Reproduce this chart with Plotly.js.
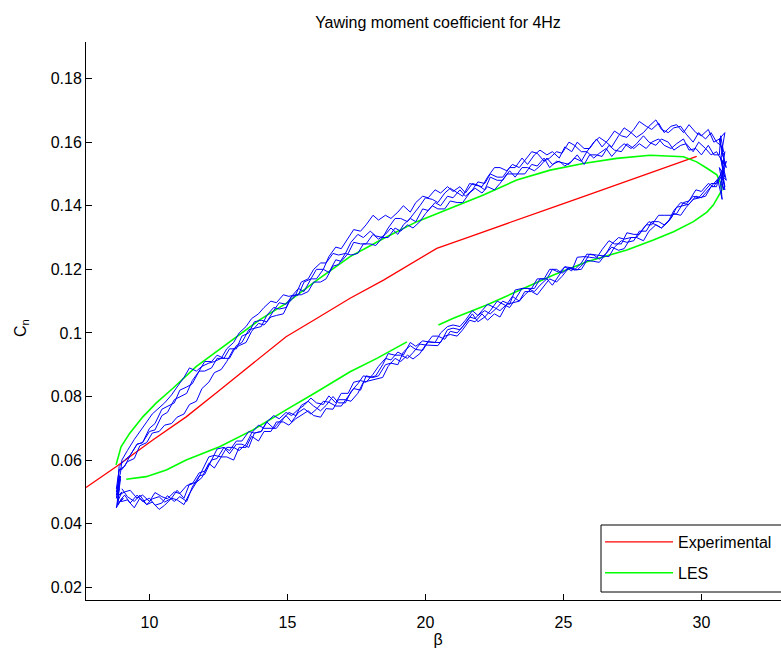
<!DOCTYPE html>
<html><head><meta charset="utf-8">
<script src="https://cdn.plot.ly/plotly-3.0.1.min.js"></script>
<style>html,body{margin:0;padding:0;overflow:hidden;background:#fff;} #chart{width:820px;height:648px;}</style>
</head><body><div id="chart"></div>
<script>
// ---- Experimental (red) ----
const redX = [7.70, 8.79, 10.12, 11.33, 12.54, 13.75, 14.95, 16.07, 17.27, 18.48, 19.69, 20.41, 21.62, 22.22, 23.31, 24.64, 25.72, 27.54, 28.14, 29.83];
const redY = [0.0514, 0.0579, 0.0663, 0.0736, 0.0820, 0.0904, 0.0988, 0.1046, 0.1109, 0.1166, 0.1228, 0.1266, 0.1303, 0.1321, 0.1355, 0.1396, 0.1429, 0.1485, 0.1503, 0.1555];

// ---- LES (green) ----
const greenX = [9.16, 9.88, 10.61, 11.33, 12.54, 13.75, 14.95, 15.68, 16.07, 17.27, 18.24, 19.33, null, 20.47, 21.01, 22.22, 23.43, 24.64, 25.85, 27.30, 28.26, 28.99, 29.71, 30.20, 30.43, 30.74, 30.68, 30.56, 30.20, 29.83, 29.35, 28.14, 26.93, 25.72, 24.52, 23.31, 22.10, 20.89, 19.69, 18.48, 17.27, 16.07, 14.95, 13.99, 13.02, 11.69, 10.85, 10.24, 9.76, 9.28, 8.97, 8.79];
const greenY = [0.0540, 0.0548, 0.0569, 0.0600, 0.0642, 0.0695, 0.0758, 0.0794, 0.0815, 0.0878, 0.0920, 0.0972, null, 0.1025, 0.1046, 0.1088, 0.1135, 0.1182, 0.1224, 0.1261, 0.1292, 0.1318, 0.1350, 0.1380, 0.1402, 0.1449, 0.1475, 0.1497, 0.1518, 0.1538, 0.1554, 0.1559, 0.1549, 0.1533, 0.1512, 0.1481, 0.1434, 0.1392, 0.1350, 0.1297, 0.1240, 0.1166, 0.1093, 0.1041, 0.0980, 0.0894, 0.0826, 0.0779, 0.0736, 0.0684, 0.0642, 0.0585];

// ---- measured cycles (blue): beta samples of the upstroke ----
const betaA = [9.0, 9.2, 9.45, 9.65, 9.9, 10.1, 10.35, 10.55, 10.8, 11.0, 11.25, 11.45, 11.7, 11.9, 12.15, 12.35, 12.6, 12.8, 13.05, 13.25, 13.5, 13.7, 13.95, 14.15, 14.4, 14.6, 14.85, 15.05, 15.3, 15.5, 15.75, 15.95, 16.2, 16.4, 16.65, 16.85, 17.1, 17.3, 17.55, 17.75, 18.0, 18.2, 18.45, 18.65, 18.9, 19.1, 19.35, 19.55, 19.8, 20.0, 20.25, 20.45, 20.7, 20.9, 21.15, 21.35, 21.6, 21.8, 22.05, 22.25, 22.5, 22.7, 22.95, 23.15, 23.4, 23.6, 23.85, 24.05, 24.3, 24.5, 24.75, 24.95, 25.2, 25.4, 25.65, 25.85, 26.1, 26.3, 26.55, 26.75, 27.0, 27.2, 27.45, 27.65, 27.9, 28.1, 28.35, 28.55, 28.8, 29.0, 29.25, 29.45, 29.7, 29.9, 30.15, 30.35, 30.55];
const betaB = [9.1, 9.3, 9.55, 9.75, 10.0, 10.2, 10.45, 10.65, 10.9, 11.1, 11.35, 11.55, 11.8, 12.0, 12.25, 12.45, 12.7, 12.9, 13.15, 13.35, 13.6, 13.8, 14.05, 14.25, 14.5, 14.7, 14.95, 15.15, 15.4, 15.6, 15.85, 16.05, 16.3, 16.5, 16.75, 16.95, 17.2, 17.4, 17.65, 17.85, 18.1, 18.3, 18.55, 18.75, 19.0, 19.2, 19.45, 19.65, 19.9, 20.1, 20.35, 20.55, 20.8, 21.0, 21.25, 21.45, 21.7, 21.9, 22.15, 22.35, 22.6, 22.8, 23.05, 23.25, 23.5, 23.7, 23.95, 24.15, 24.4, 24.6, 24.85, 25.05, 25.3, 25.5, 25.75, 25.95, 26.2, 26.4, 26.65, 26.85, 27.1, 27.3, 27.55, 27.75, 28.0, 28.2, 28.45, 28.65, 28.9, 29.1, 29.35, 29.55, 29.8, 30.0, 30.25, 30.45, 30.65];

// cycle 1 (betaA up, betaA reversed down)
const c1Low = [0.051, 0.0485, 0.047, 0.049, 0.046, 0.0478, 0.0485, 0.0468, 0.048, 0.0505, 0.048, 0.0525, 0.053, 0.0565, 0.061, 0.0615, 0.061, 0.064, 0.064, 0.063, 0.065, 0.0685, 0.071, 0.070, 0.070, 0.070, 0.073, 0.075, 0.074, 0.0772, 0.0785, 0.077, 0.0755, 0.0772, 0.080, 0.078, 0.078, 0.0815, 0.084, 0.0865, 0.086, 0.0865, 0.090, 0.0935, 0.093, 0.093, 0.092, 0.0938, 0.0965, 0.0962, 0.099, 0.099, 0.098, 0.1005, 0.100, 0.102, 0.105, 0.1045, 0.107, 0.109, 0.108, 0.107, 0.109, 0.1115, 0.110, 0.112, 0.114, 0.117, 0.117, 0.120, 0.120, 0.1188, 0.1205, 0.1198, 0.122, 0.1248, 0.1245, 0.1232, 0.125, 0.128, 0.130, 0.1295, 0.130, 0.130, 0.133, 0.135, 0.134, 0.133, 0.135, 0.1385, 0.141, 0.1405, 0.143, 0.1425, 0.145, 0.147, 0.147];
const c1RightX = [30.7, 30.8, 30.65, 30.85, 30.7, 30.9, 30.75, 30.8, 30.65, 30.7];
const c1RightY = [0.149, 0.145, 0.152, 0.149, 0.155, 0.152, 0.158, 0.156, 0.161, 0.159];
const c1Up = [0.160, 0.163, 0.161, 0.163, 0.160, 0.1625, 0.165, 0.1645, 0.163, 0.164, 0.167, 0.165, 0.163, 0.1615, 0.163, 0.1645, 0.162, 0.1585, 0.160, 0.1615, 0.160, 0.157, 0.157, 0.159, 0.160, 0.1565, 0.157, 0.155, 0.154, 0.1565, 0.157, 0.154, 0.152, 0.153, 0.151, 0.152, 0.152, 0.149, 0.146, 0.1465, 0.147, 0.143, 0.144, 0.1455, 0.144, 0.141, 0.142, 0.1425, 0.140, 0.137, 0.135, 0.136, 0.136, 0.133, 0.130, 0.1305, 0.132, 0.130, 0.131, 0.1285, 0.125, 0.1245, 0.125, 0.122, 0.122, 0.120, 0.117, 0.116, 0.112, 0.1115, 0.112, 0.1095, 0.110, 0.108, 0.106, 0.1045, 0.102, 0.100, 0.097, 0.095, 0.092, 0.091, 0.0905, 0.0895, 0.088, 0.089, 0.086, 0.083, 0.0805, 0.078, 0.0765, 0.0745, 0.072, 0.069, 0.0665, 0.063, 0.060];
const c1LeftX = [8.95, 8.85, 8.95, 8.8, 8.9, 8.85, 9.0, 8.9];
const c1LeftY = [0.056, 0.053, 0.055, 0.049, 0.052, 0.047, 0.050, 0.049];

// cycle 2 (betaB)
const c2Low = [0.050, 0.0505, 0.048, 0.049, 0.047, 0.0498, 0.0485, 0.0478, 0.050, 0.0495, 0.052, 0.0525, 0.056, 0.0565, 0.060, 0.0635, 0.064, 0.063, 0.066, 0.066, 0.069, 0.0685, 0.069, 0.072, 0.074, 0.073, 0.075, 0.074, 0.076, 0.0772, 0.0795, 0.078, 0.0775, 0.0802, 0.078, 0.081, 0.081, 0.0845, 0.085, 0.0845, 0.087, 0.0895, 0.092, 0.0915, 0.094, 0.093, 0.097, 0.0958, 0.0975, 0.0972, 0.097, 0.100, 0.102, 0.1025, 0.102, 0.104, 0.107, 0.1055, 0.107, 0.106, 0.108, 0.110, 0.109, 0.1135, 0.114, 0.114, 0.114, 0.117, 0.117, 0.120, 0.119, 0.1208, 0.1195, 0.1238, 0.124, 0.1238, 0.1235, 0.1262, 0.129, 0.128, 0.128, 0.1315, 0.131, 0.131, 0.134, 0.134, 0.137, 0.137, 0.137, 0.1375, 0.141, 0.1415, 0.145, 0.1445, 0.147, 0.146, 0.149];
const c2RightX = [30.75, 30.85, 30.7, 30.9, 30.75, 30.85, 30.7, 30.8, 30.7];
const c2RightY = [0.151, 0.146, 0.150, 0.148, 0.154, 0.153, 0.159, 0.157, 0.162];
const c2Up = [0.156, 0.156, 0.159, 0.156, 0.158, 0.1575, 0.161, 0.1595, 0.158, 0.159, 0.161, 0.160, 0.158, 0.1595, 0.158, 0.1595, 0.157, 0.1575, 0.159, 0.1555, 0.156, 0.156, 0.153, 0.156, 0.154, 0.1525, 0.154, 0.153, 0.155, 0.1525, 0.151, 0.152, 0.152, 0.149, 0.151, 0.148, 0.148, 0.149, 0.145, 0.1465, 0.147, 0.144, 0.146, 0.1445, 0.146, 0.144, 0.145, 0.1425, 0.143, 0.141, 0.138, 0.140, 0.138, 0.136, 0.137, 0.1355, 0.137, 0.134, 0.132, 0.1325, 0.130, 0.1265, 0.127, 0.124, 0.120, 0.120, 0.117, 0.116, 0.112, 0.1115, 0.108, 0.1075, 0.108, 0.1055, 0.102, 0.1015, 0.101, 0.097, 0.096, 0.092, 0.092, 0.092, 0.089, 0.088, 0.088, 0.085, 0.081, 0.080, 0.079, 0.075, 0.074, 0.0695, 0.069, 0.0655, 0.065, 0.0615, 0.058];
const c2LeftX = [8.9, 8.85, 8.95, 8.8, 8.9, 8.85, 9.05, 8.95];
const c2LeftY = [0.057, 0.053, 0.055, 0.050, 0.053, 0.046, 0.048, 0.047];

// cycle 3 (betaA)
const c3Low = [0.047, 0.0475, 0.045, 0.048, 0.046, 0.0468, 0.0445, 0.0458, 0.048, 0.0475, 0.046, 0.0495, 0.053, 0.0545, 0.059, 0.0575, 0.061, 0.061, 0.060, 0.064, 0.064, 0.0675, 0.066, 0.069, 0.069, 0.072, 0.072, 0.071, 0.073, 0.0742, 0.0755, 0.074, 0.0735, 0.0762, 0.076, 0.079, 0.079, 0.0785, 0.081, 0.0845, 0.085, 0.0855, 0.086, 0.0895, 0.092, 0.091, 0.093, 0.0918, 0.0935, 0.0962, 0.096, 0.096, 0.099, 0.0995, 0.099, 0.101, 0.104, 0.1035, 0.106, 0.104, 0.106, 0.105, 0.109, 0.1095, 0.110, 0.113, 0.113, 0.112, 0.115, 0.117, 0.116, 0.1178, 0.1205, 0.1198, 0.120, 0.1228, 0.1225, 0.1222, 0.125, 0.127, 0.126, 0.1265, 0.130, 0.130, 0.129, 0.132, 0.134, 0.133, 0.135, 0.1375, 0.137, 0.1395, 0.142, 0.1425, 0.143, 0.146, 0.146];
const c3RightX = [30.6, 30.75, 30.7, 30.85, 30.75, 30.8, 30.7, 30.75];
const c3RightY = [0.148, 0.142, 0.147, 0.145, 0.151, 0.150, 0.155, 0.154];
const c3Up = [0.157, 0.156, 0.158, 0.160, 0.157, 0.1595, 0.159, 0.1575, 0.160, 0.161, 0.159, 0.160, 0.162, 0.1595, 0.158, 0.1595, 0.158, 0.1555, 0.158, 0.1565, 0.155, 0.157, 0.154, 0.155, 0.153, 0.1535, 0.154, 0.152, 0.155, 0.1525, 0.153, 0.150, 0.150, 0.150, 0.150, 0.147, 0.145, 0.146, 0.144, 0.1455, 0.144, 0.141, 0.141, 0.1415, 0.139, 0.139, 0.140, 0.1375, 0.135, 0.133, 0.134, 0.132, 0.133, 0.130, 0.130, 0.1275, 0.128, 0.128, 0.125, 0.1245, 0.125, 0.1215, 0.121, 0.117, 0.116, 0.116, 0.113, 0.112, 0.112, 0.1095, 0.106, 0.1055, 0.105, 0.1025, 0.103, 0.1005, 0.097, 0.096, 0.095, 0.091, 0.0885, 0.0875, 0.0845, 0.0825, 0.0785, 0.0775, 0.0745, 0.0735, 0.0715, 0.071, 0.069, 0.0685, 0.0655, 0.0645, 0.0605, 0.0595, 0.057];
const c3LeftX = [8.9, 8.8, 8.95, 8.85, 8.9, 8.8, 9.0];
const c3LeftY = [0.057, 0.051, 0.054, 0.048, 0.051, 0.045, 0.048];

// cycle 4 (betaB)
const c4Low = [0.049, 0.0465, 0.049, 0.047, 0.048, 0.0458, 0.0465, 0.0488, 0.047, 0.0485, 0.047, 0.0515, 0.055, 0.0555, 0.060, 0.0605, 0.064, 0.062, 0.065, 0.065, 0.064, 0.0685, 0.069, 0.072, 0.070, 0.072, 0.074, 0.072, 0.075, 0.0762, 0.0745, 0.076, 0.0785, 0.0782, 0.077, 0.077, 0.080, 0.0825, 0.082, 0.0865, 0.086, 0.0865, 0.090, 0.0905, 0.090, 0.094, 0.096, 0.0948, 0.0945, 0.0972, 0.097, 0.097, 0.101, 0.1015, 0.101, 0.103, 0.106, 0.1035, 0.105, 0.107, 0.110, 0.109, 0.108, 0.1105, 0.114, 0.114, 0.113, 0.115, 0.117, 0.115, 0.118, 0.1208, 0.1205, 0.1198, 0.122, 0.1248, 0.1245, 0.1242, 0.124, 0.127, 0.129, 0.1285, 0.129, 0.132, 0.132, 0.135, 0.135, 0.134, 0.136, 0.1395, 0.140, 0.1405, 0.143, 0.1425, 0.145, 0.147, 0.149];
const c4RightX = [30.8, 30.7, 30.9, 30.75, 30.85, 30.7, 30.8, 30.75, 30.85];
const c4RightY = [0.151, 0.147, 0.154, 0.151, 0.157, 0.155, 0.160, 0.158, 0.163];
const c4Up = [0.161, 0.160, 0.164, 0.162, 0.163, 0.1655, 0.163, 0.1655, 0.165, 0.163, 0.166, 0.164, 0.165, 0.1665, 0.164, 0.1615, 0.162, 0.1635, 0.161, 0.1585, 0.161, 0.158, 0.158, 0.160, 0.157, 0.1585, 0.155, 0.157, 0.156, 0.1575, 0.156, 0.153, 0.155, 0.152, 0.152, 0.149, 0.149, 0.150, 0.147, 0.1475, 0.145, 0.143, 0.145, 0.1425, 0.143, 0.140, 0.141, 0.1385, 0.139, 0.135, 0.136, 0.134, 0.131, 0.133, 0.131, 0.1295, 0.131, 0.128, 0.128, 0.1285, 0.125, 0.1225, 0.123, 0.119, 0.120, 0.117, 0.117, 0.113, 0.114, 0.1115, 0.109, 0.1095, 0.107, 0.1035, 0.104, 0.1035, 0.100, 0.099, 0.095, 0.095, 0.092, 0.093, 0.091, 0.091, 0.088, 0.084, 0.083, 0.082, 0.078, 0.077, 0.076, 0.0715, 0.070, 0.0655, 0.065, 0.0615, 0.060];
const c4LeftX = [8.9, 8.85, 8.95, 8.8, 8.9, 8.85, 9.0];
const c4LeftY = [0.058, 0.052, 0.055, 0.048, 0.051, 0.046, 0.048];

// ---- ticks ----
const xTickVals = [10, 15, 20, 25, 30];
const xTickText = ['10', '15', '20', '25', '30'];
const yTickVals = [0.02, 0.04, 0.06, 0.08, 0.1, 0.12, 0.14, 0.16, 0.18];
const yTickText = ['0.02', '0.04', '0.06', '0.08', '0.1', '0.12', '0.14', '0.16', '0.18'];

const revA = betaA.slice().reverse();
const revB = betaB.slice().reverse();
const blueX = [].concat(
  betaA, c1RightX, revA, c1LeftX,
  betaB, c2RightX, revB, c2LeftX,
  betaA, c3RightX, revA, c3LeftX,
  betaB, c4RightX, revB, c4LeftX);
const blueY = [].concat(
  c1Low, c1RightY, c1Up, c1LeftY,
  c2Low, c2RightY, c2Up, c2LeftY,
  c3Low, c3RightY, c3Up, c3LeftY,
  c4Low, c4RightY, c4Up, c4LeftY);

const FONT = 'Liberation Sans, Arial, Helvetica, sans-serif';

const traces = [
  {x: redX, y: redY, type: 'scatter', mode: 'lines', name: 'Experimental', legendgroup: 'a',
   line: {color: '#ff0000', width: 1.3}},
  {x: greenX, y: greenY, type: 'scatter', mode: 'lines', name: 'LES', legendgroup: 'b',
   line: {color: '#00ff00', width: 1.6}, connectgaps: false},
  {x: blueX, y: blueY, type: 'scatter', mode: 'lines', name: 'measured', showlegend: false,
   line: {color: '#0000ff', width: 1}}
];

// legend frame: the box runs past the right edge of the figure, as in the original
const legendFrame = {type: 'rect', xref: 'paper', yref: 'paper', layer: 'above',
  x0: (601-86)/704, x1: (830-86)/704, y0: (600-592)/558, y1: (600-525)/558,
  line: {color: '#000', width: 1}, fillcolor: '#fff'};

const layout = {
  width: 820, height: 648,
  margin: {l: 86, r: 30, t: 42, b: 48, pad: 0},
  paper_bgcolor: '#fff', plot_bgcolor: '#fff',
  font: {family: FONT, size: 16, color: '#000'},
  title: {text: 'Yawing moment coefficient for 4Hz', x: 0.5, xref: 'paper', xanchor: 'center',
          y: 1 - 22/648, yref: 'container', yanchor: 'middle', font: {family: FONT, size: 16, color: '#000'}},
  xaxis: {range: [7.70, 33.21], tickvals: xTickVals, ticktext: xTickText, ticks: 'inside', ticklen: 6,
          tickcolor: '#000', tickwidth: 1, showline: true, linecolor: '#000', linewidth: 1,
          showgrid: false, zeroline: false, mirror: false, tickfont: {size: 16}, ticklabelstandoff: 8,
          title: {text: 'β', font: {size: 16}, standoff: 3}},
  yaxis: {range: [0.0160, 0.1915], tickvals: yTickVals, ticktext: yTickText, ticks: 'inside', ticklen: 6,
          tickcolor: '#000', tickwidth: 1, showline: true, linecolor: '#000', linewidth: 1,
          showgrid: false, zeroline: false, mirror: false, tickfont: {size: 16}, automargin: false},
  annotations: [{text: 'C<sub>n</sub>', textangle: -90, xref: 'paper', yref: 'paper',
                 x: (21-86)/704, y: (600-328)/558, xanchor: 'center', yanchor: 'middle',
                 showarrow: false, font: {family: FONT, size: 16, color: '#000'}}],
  shapes: [legendFrame],
  showlegend: true,
  legend: {x: (600-86)/704, y: (600-525)/558, xanchor: 'left', yanchor: 'top',
           bgcolor: 'rgba(255,255,255,0)', borderwidth: 0, font: {size: 16},
           itemwidth: 68, tracegroupgap: 7, traceorder: 'grouped'}
};

Plotly.newPlot('chart', traces, layout, {displayModeBar: false, staticPlot: true});
</script></body></html>
